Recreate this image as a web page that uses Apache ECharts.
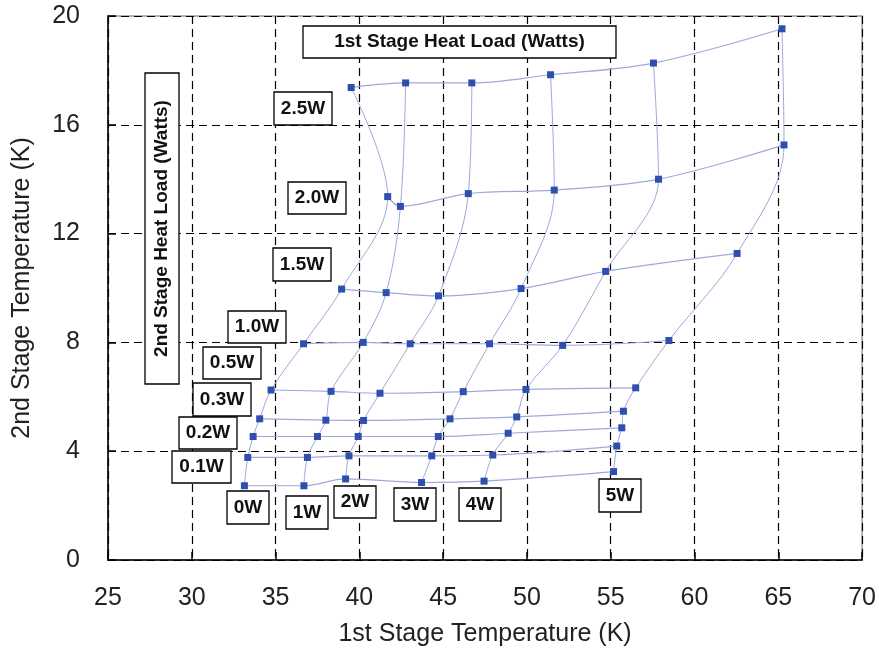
<!DOCTYPE html>
<html>
<head>
<meta charset="utf-8">
<script src="https://cdn.jsdelivr.net/npm/echarts@6/dist/echarts.min.js"></script>
<style>
html,body{margin:0;padding:0;background:#fff;}
#chart{width:879px;height:654px;}
</style>
</head>
<body>
<div id="chart"></div>
<script>
// 1st stage heat loads (vertical curves) and 2nd stage heat loads (horizontal curves)
const stage1Loads = ['0W', '1W', '2W', '3W', '4W', '5W'];
const stage2Loads = ['0W', '0.1W', '0.2W', '0.3W', '0.5W', '1.0W', '1.5W', '2.0W', '2.5W'];

// For each 2nd stage load: 1st stage temperatures (K) and 2nd stage temperatures (K), one per 1st stage load
const t1_q2_0W   = [33.14, 36.69, 39.18, 43.71, 47.44, 55.17];
const t2_q2_0W   = [2.73, 2.73, 2.98, 2.85, 2.90, 3.25];
const t1_q2_0p1W = [33.34, 36.90, 39.38, 44.32, 47.96, 55.36];
const t2_q2_0p1W = [3.77, 3.77, 3.83, 3.83, 3.86, 4.19];
const t1_q2_0p2W = [33.66, 37.50, 39.93, 44.71, 48.88, 55.66];
const t2_q2_0p2W = [4.54, 4.54, 4.54, 4.54, 4.66, 4.86];
const t1_q2_0p3W = [34.05, 38.00, 40.25, 45.41, 49.39, 55.76];
const t2_q2_0p3W = [5.19, 5.14, 5.13, 5.19, 5.26, 5.47];
const t1_q2_0p5W = [34.73, 38.31, 41.23, 46.20, 49.94, 56.49];
const t2_q2_0p5W = [6.25, 6.20, 6.13, 6.19, 6.27, 6.33];
const t1_q2_1p0W = [36.67, 40.23, 43.03, 47.77, 52.13, 58.47];
const t2_q2_1p0W = [7.95, 8.00, 7.95, 7.95, 7.89, 8.07];
const t1_q2_1p5W = [38.94, 41.60, 44.72, 49.65, 54.70, 62.54];
const t2_q2_1p5W = [9.96, 9.83, 9.71, 9.98, 10.61, 11.27];
const t1_q2_2p0W = [41.69, 42.45, 46.50, 51.63, 57.85, 65.34];
const t2_q2_2p0W = [13.36, 13.00, 13.47, 13.60, 14.00, 15.26];
const t1_q2_2p5W = [39.51, 42.76, 46.71, 51.41, 57.55, 65.22];
const t2_q2_2p5W = [17.37, 17.54, 17.54, 17.84, 18.27, 19.53];

const xTicks = [25, 30, 35, 40, 45, 50, 55, 60, 65, 70];
const yTicks = [0, 4, 8, 12, 16, 20];

const xAxisTitle = '1st Stage Temperature (K)';
const yAxisTitle = '2nd Stage Temperature (K)';
const stage1BoxTitle = '1st Stage Heat Load (Watts)';
const stage2BoxTitle = '2nd Stage Heat Load (Watts)';

const rowsT1 = [t1_q2_0W, t1_q2_0p1W, t1_q2_0p2W, t1_q2_0p3W, t1_q2_0p5W, t1_q2_1p0W, t1_q2_1p5W, t1_q2_2p0W, t1_q2_2p5W];
const rowsT2 = [t2_q2_0W, t2_q2_0p1W, t2_q2_0p2W, t2_q2_0p3W, t2_q2_0p5W, t2_q2_1p0W, t2_q2_1p5W, t2_q2_2p0W, t2_q2_2p5W];

const lineColor = '#9ea9da';
const markColor = '#2f4fae';
const series = [];
// vertical curves (constant 1st stage load)
stage1Loads.forEach((name, j) => {
  series.push({
    name: '1st ' + name, type: 'line', smooth: 0.35, showSymbol: false, symbol: 'none',
    lineStyle: {color: lineColor, width: 1}, z: 2, silent: true,
    data: rowsT1.map((r, i) => [r[j], rowsT2[i][j]])
  });
});
// horizontal curves (constant 2nd stage load)
stage2Loads.forEach((name, i) => {
  series.push({
    name: '2nd ' + name, type: 'line', smooth: 0.35, symbol: 'rect', symbolSize: 7,
    itemStyle: {color: markColor}, lineStyle: {color: lineColor, width: 1.2}, z: 3, silent: true,
    data: rowsT1[i].map((x, j) => [x, rowsT2[i][j]])
  });
});

function box(x, y, w, h, text, fontSize, rotate) {
  return [
    {type: 'rect', z: 100, zlevel: 1, shape: {x: x, y: y, width: w, height: h},
     style: {fill: '#fff', stroke: '#000', lineWidth: 1.3}},
    {type: 'text', z: 101, zlevel: 1, x: x + w / 2, y: y + h / 2, rotation: rotate ? Math.PI / 2 : 0,
     style: {text: text, fill: '#111', font: 'bold ' + fontSize + 'px "Liberation Sans", Arial, sans-serif',
             textAlign: 'center', textVerticalAlign: 'middle'}}
  ];
}

const s2Boxes = [[227,491,42,33],[172,451,59,32],[179,417,58,32],[193,383,58,33],[203,347,58,32],[228,311,58,32],[273,248,58,33],[288,182,58,32],[274,92,58,33]];
const s1Boxes = [null,[286,496,42,33],[334,486,42,32],[394,488,42,33],[459,488,42,33],[599,479,42,33]];

let graphics = [];
stage2Loads.forEach((t, i) => { const b = s2Boxes[i]; graphics = graphics.concat(box(b[0], b[1], b[2], b[3], t, 19)); });
stage1Loads.forEach((t, j) => { const b = s1Boxes[j]; if (b) graphics = graphics.concat(box(b[0], b[1], b[2], b[3], t, 19)); });
graphics = graphics.concat(box(303, 26, 313, 32, stage1BoxTitle, 19));
graphics = graphics.concat(box(145, 73, 34, 311, stage2BoxTitle, 19, true));

const chart = echarts.init(document.getElementById('chart'), null, {renderer: 'canvas'});
chart.setOption({
  animation: false,
  backgroundColor: '#fff',
  grid: {left: 108, right: 13, top: 16, bottom: 94, show: true, borderColor: '#999', borderWidth: 1.5},
  xAxis: {
    type: 'value', min: xTicks[0], max: xTicks[xTicks.length - 1], interval: 5,
    name: xAxisTitle, nameLocation: 'middle', nameGap: 62,
    nameTextStyle: {fontSize: 25, color: '#222', fontFamily: 'Liberation Sans'},
    axisLine: {show: true, lineStyle: {color: '#000', width: 1.5}},
    axisTick: {show: true, inside: true, length: 8, lineStyle: {color: '#000', width: 1.5}},
    axisLabel: {fontSize: 25, color: '#222', margin: 26, fontFamily: 'Liberation Sans'},
    splitLine: {show: true, lineStyle: {color: '#000', type: [8, 5], width: 1.2}}
  },
  yAxis: {
    type: 'value', min: yTicks[0], max: yTicks[yTicks.length - 1], interval: 4,
    name: yAxisTitle, nameLocation: 'middle', nameGap: 73,
    nameTextStyle: {fontSize: 25, color: '#222', fontFamily: 'Liberation Sans'},
    axisLine: {show: true, lineStyle: {color: '#000', width: 1.5}},
    axisTick: {show: true, inside: true, length: 8, lineStyle: {color: '#000', width: 1.5}},
    axisLabel: {fontSize: 25, color: '#222', margin: 28, fontFamily: 'Liberation Sans'},
    splitLine: {show: true, lineStyle: {color: '#000', type: [8, 5], width: 1.2}}
  },
  series: series,
  graphic: graphics
});
</script>
</body>
</html>
